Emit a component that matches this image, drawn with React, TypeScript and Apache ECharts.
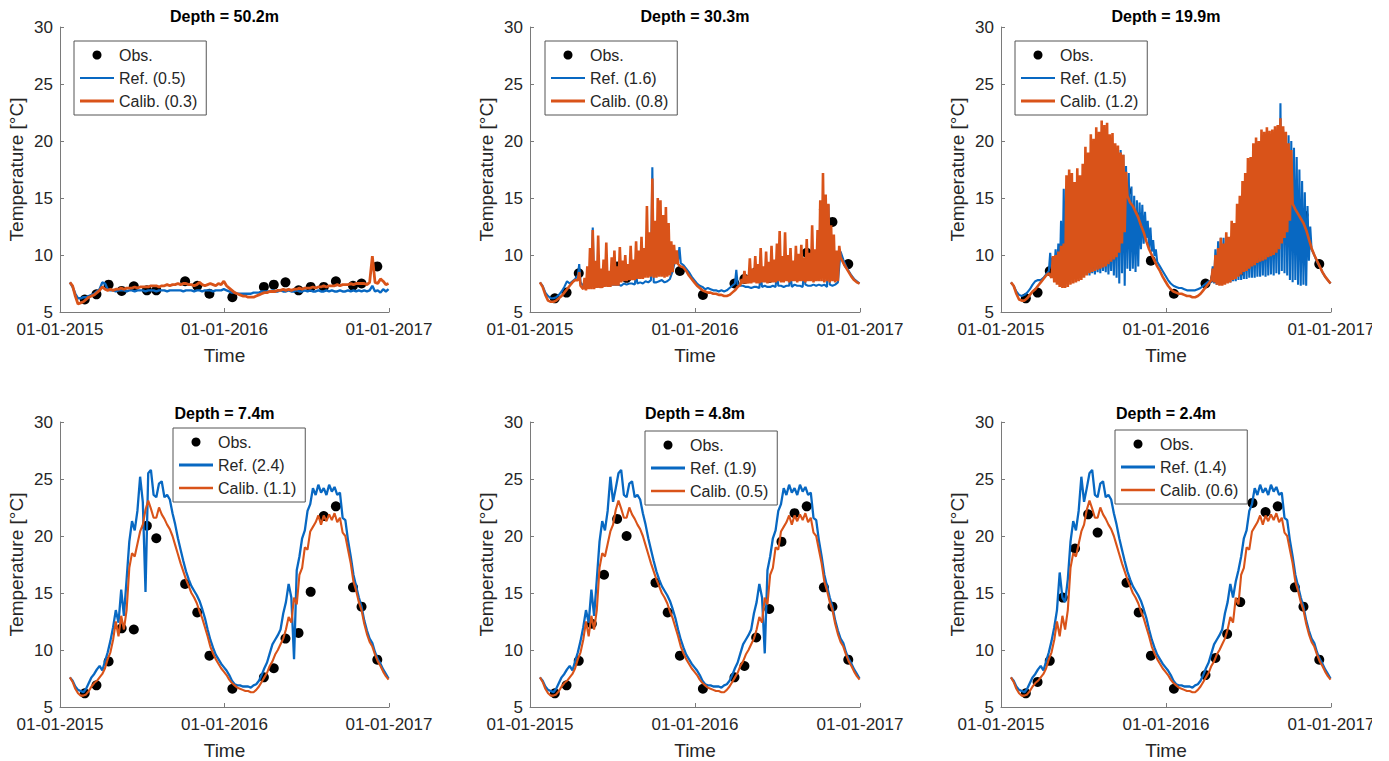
import React, { useEffect, useRef } from 'react';
import * as echarts from 'echarts';

// ---------- DATA ----------
// Simulated series are sampled every STEP days starting at DAY0 (days since 01-01-2015)
const DAY0 = 22;
const STEP = 6;
const X_TICK_LABELS = ['01-01-2015', '01-01-2016', '01-01-2017'];
const OBS_DAYS = [55, 81, 108, 137, 164, 193, 214, 278, 305, 332, 383, 453, 475, 501, 530, 557, 586, 613, 651, 670, 705];

// Depth = 50.2m
const REF_50 = [7.6,7.2,6.6,6.2,6.2,6.3,6.3,6.4,6.5,6.6,
 6.8,7.0,7.6,7.5,7.0,6.9,6.9,6.8,6.9,6.9,
 6.9,6.8,6.9,6.9,6.8,6.9,6.9,6.9,6.8,6.9,
 6.9,6.9,6.8,6.9,6.9,6.9,6.8,6.9,6.9,6.9,
 6.9,6.9,6.8,6.9,6.9,6.9,6.8,6.9,6.9,6.8,
 6.9,6.9,6.9,6.8,6.9,6.9,6.9,7.0,6.9,6.8,
 6.7,6.7,6.6,6.6,6.6,6.6,6.6,6.6,6.7,6.7,
 6.7,6.8,6.8,6.8,6.8,6.9,6.8,6.8,6.9,6.8,
 6.8,6.9,6.8,6.8,6.9,6.8,6.8,6.9,6.8,6.9,
 6.8,6.8,6.9,6.8,6.8,6.9,6.8,6.9,6.8,6.8,
 6.9,6.8,6.8,6.9,6.8,6.9,6.8,6.9,6.8,6.9,
 6.8,6.9,7.3,6.8,6.9,6.7,7.0,6.8,7.0];
const CALIB_50 = [7.6,7.3,6.4,5.7,5.8,5.9,6.1,6.3,6.4,6.5,
 6.7,6.9,7.2,7.0,6.9,7.0,6.9,7.0,7.0,7.1,
 7.0,7.1,7.1,7.1,7.2,7.1,7.2,7.2,7.2,7.2,
 7.3,7.3,7.3,7.2,7.3,7.3,7.4,7.3,7.4,7.4,
 7.5,7.4,7.5,7.5,7.4,7.4,7.3,7.4,7.6,7.4,
 7.3,7.4,7.5,7.4,7.3,7.5,7.4,7.7,7.3,7.1,
 6.9,6.7,6.6,6.5,6.4,6.4,6.3,6.3,6.3,6.4,
 6.5,6.6,6.7,6.7,6.8,6.8,6.8,6.9,6.9,7.0,
 6.9,7.0,6.9,7.0,7.0,7.1,7.0,7.1,7.1,7.1,
 7.2,7.1,7.2,7.2,7.3,7.2,7.3,7.3,7.3,7.4,
 7.3,7.4,7.4,7.4,7.5,7.4,7.5,7.5,7.5,7.5,
 7.4,7.6,9.9,7.6,7.5,7.9,7.7,7.4,7.5];
const OBS_50 = [6.1,6.55,7.4,6.85,7.25,6.9,6.9,7.7,7.3,6.6,6.3,7.2,7.4,7.6,6.9,7.2,7.2,7.7,7.3,7.5,9.0];

// Depth = 30.3m (base = lower trace, peak = spike tops, 0 = no spike)
const REF_30 = [7.6,7.3,6.7,6.4,6.2,6.2,6.3,6.5,6.8,7.2,
 7.7,7.5,7.7,7.9,8.2,7.6,7.3,7.2,7.3,7.3,
 7.2,7.2,7.3,7.3,7.3,7.4,7.4,7.4,7.4,7.4,
 7.3,7.5,7.4,7.5,7.5,7.4,7.5,7.6,7.5,7.7,
 7.6,7.8,7.6,7.6,7.7,7.8,7.6,7.7,7.9,8.6,
 9.6,9.5,9.3,9.1,8.8,8.5,8.1,7.8,7.5,7.3,
 7.2,7.0,7.1,7.0,6.9,6.9,6.8,6.9,6.8,6.9,
 7.1,7.3,7.5,7.4,7.3,7.3,7.2,7.2,7.1,7.2,
 7.2,7.1,7.2,7.3,7.2,7.2,7.3,7.2,7.3,7.3,
 7.2,7.3,7.3,7.2,7.4,7.3,7.3,7.2,7.4,7.3,
 7.3,7.4,7.3,7.4,7.3,7.4,7.2,7.4,7.3,7.4,
 7.6,10.3,9.6,9.0,8.6,8.2,7.9,7.7,7.5];
const REF_30_PEAK = [0,0,0,0,0,0,0,0,0,0,
 0,0,0,0,9.2,0,0,0,0,12.4,
 9.0,0,0,0,8.2,0,0,0,0,0,
 0,0,0,0,0,8.3,0,0,0,0,
 0,17.7,0,0,0,0,0,0,0,0,
 0,10.7,0,0,0,0,0,0,0,0,
 0,0,0,0,0,0,0,0,0,0,
 0,0,8.7,0,0,0,0,0,0,0,
 0,8.3,0,0,0,0,0,8.5,0,0,
 0,0,8.4,0,0,0,0,8.6,0,0,
 0,0,0,0,0,0,14.4,0,0,0,
 0,0,0,0,0,0,0,0,0];
const CALIB_30 = [7.6,7.2,6.5,6.0,5.9,5.9,6.0,6.2,6.4,6.7,
 7.0,7.3,7.6,7.8,7.8,7.3,7.0,6.9,7.0,7.0,
 7.0,7.1,7.1,7.1,7.2,7.2,7.2,7.3,7.3,7.3,
 7.6,7.7,7.7,7.8,7.8,7.8,7.9,7.9,7.9,8.0,
 8.0,8.1,8.0,8.0,8.1,8.1,8.0,8.1,8.2,8.5,
 9.2,9.2,9.0,8.9,8.6,8.2,7.9,7.6,7.3,7.1,
 6.9,6.8,6.7,6.7,6.6,6.6,6.5,6.5,6.4,6.4,
 6.5,6.7,6.9,7.2,7.4,7.5,7.5,7.5,7.5,7.6,
 7.5,7.5,7.6,7.6,7.5,7.6,7.6,7.6,7.7,7.6,
 7.6,7.7,7.6,7.7,7.7,7.6,7.7,7.7,7.6,7.7,
 7.7,7.6,7.7,7.7,7.7,7.6,7.7,7.6,7.7,7.6,
 7.7,9.8,9.3,8.9,8.5,8.1,7.8,7.6,7.5];
const CALIB_30_PEAK = [0,0,0,0,0,0,0,0,0,0,
 0,0,0,0,8.5,0,8.0,9.0,10.6,12.2,
 9.5,11.7,8.8,9.6,11.1,8.6,9.8,10.4,9.0,10.7,
 9.5,10.0,9.2,10.8,9.6,11.2,10.4,11.6,10.6,14.3,
 12.0,16.7,13.0,15.0,14.8,13.5,14.2,12.8,11.2,10.9,
 10.4,0,0,0,0,0,0,0,0,0,
 0,0,0,0,0,0,0,0,0,0,
 0,0,0,0,7.9,8.6,8.2,9.7,8.8,9.9,
 9.2,10.6,9.0,10.3,9.4,10.8,9.6,11.0,12.1,9.9,
 12.0,10.0,10.6,9.5,10.8,10.1,10.9,9.8,11.4,10.2,
 12.6,10.5,12.2,14.8,17.2,15.3,14.5,12.6,11.8,10.4,
 10.8,0,0,0,0,0,0,0,0];
const OBS_30 = [6.2,6.7,8.4,8.0,7.8,9.0,8.0,9.8,9.7,8.6,6.5,7.5,7.9,8.5,8.0,9.4,8.3,10.2,14.0,12.9,9.2];

// Depth = 19.9m
const REF_20 = [7.6,7.3,6.8,6.5,6.4,6.5,6.7,7.0,7.4,7.7,
 7.8,7.8,8.0,8.3,8.6,8.8,8.6,8.2,7.9,7.8,
 7.8,7.8,7.9,7.9,8.0,8.1,8.0,8.2,8.3,8.2,
 8.4,8.3,8.5,8.4,8.6,8.5,8.3,8.6,8.2,8.0,
 7.5,8.4,7.3,8.8,8.6,8.8,8.5,9.0,10.5,11.0,
 11.5,10.6,10.3,9.9,9.4,9.0,8.6,8.2,7.8,7.5,
 7.3,7.2,7.1,7.1,7.0,6.9,6.9,6.9,6.9,7.0,
 7.1,7.3,7.5,7.7,7.6,7.5,7.4,7.4,7.5,7.5,
 7.6,7.6,7.7,7.7,7.8,7.8,7.9,7.9,8.0,8.0,
 8.0,8.1,8.1,8.2,8.1,8.2,8.3,8.2,8.4,8.3,
 8.6,8.4,8.2,7.8,7.6,7.8,7.4,7.3,7.4,7.3,
 9.5,10.5,10.0,9.4,9.0,8.5,8.1,7.8,7.5];
const REF_20_PEAK = [0,0,0,0,0,0,0,0,0,0,
 0,0,0,0,10.2,9.8,10.5,11.0,13.0,15.8,
 15.6,14.0,11.0,10.5,10.4,10.8,11.0,11.2,10.8,11.4,
 11.0,11.6,11.2,12.0,11.5,12.4,12.0,13.5,15.0,18.0,
 19.2,18.8,17.8,17.2,16.0,15.2,14.8,14.6,14.4,13.8,
 13.0,12.4,11.3,10.5,0,0,0,0,0,0,
 0,0,0,0,0,0,0,0,0,0,
 0,0,0,0,9.0,10.5,11.2,11.5,11.5,11.0,
 10.2,10.5,10.8,11.0,11.4,11.6,12.0,12.3,12.8,13.0,
 13.4,13.6,14.0,14.2,14.6,15.0,15.6,16.0,17.0,23.3,
 21.0,20.6,20.5,20.0,19.4,18.6,17.5,16.5,15.5,14.3,
 12.5,0,0,0,0,0,0,0,0];
const CALIB_20 = [7.6,7.3,6.6,6.1,6.0,6.0,6.2,6.5,6.8,7.0,
 7.3,7.6,7.9,8.2,8.4,8.0,7.6,7.4,7.2,7.1,
 7.1,7.2,7.4,7.5,7.6,7.7,7.8,8.0,8.2,8.4,
 8.5,8.6,8.7,8.8,8.9,9.0,9.2,9.4,9.6,9.8,
 10.2,11.0,12.0,15.2,14.6,14.3,13.8,13.3,12.6,12.0,
 11.2,10.5,10.0,9.5,9.0,8.6,8.1,7.7,7.3,7.0,
 6.8,6.7,6.6,6.6,6.5,6.4,6.4,6.3,6.3,6.4,
 6.6,6.9,7.2,7.5,7.8,7.6,7.4,7.3,7.3,7.4,
 7.5,7.6,7.8,7.9,8.1,8.3,8.5,8.6,8.8,9.0,
 9.1,9.3,9.4,9.5,9.6,9.8,9.9,10.0,10.2,10.5,
 11.0,11.5,12.0,13.0,14.5,14.0,13.6,13.2,12.8,12.2,
 11.4,10.6,10.0,9.5,9.0,8.5,8.1,7.8,7.5];
const CALIB_20_PEAK = [0,0,0,0,0,0,0,0,0,0,
 0,0,0,0,0,9.9,10.0,10.3,10.8,11.0,
 17.0,17.5,17.2,16.4,17.6,17.0,18.0,19.5,19.0,20.6,
 20.2,21.2,20.8,21.8,21.4,21.6,20.6,20.7,19.8,19.6,
 19.0,18.8,17.3,0,0,0,0,0,0,0,
 0,0,0,0,0,0,0,0,0,0,
 0,0,0,0,0,0,0,0,0,0,
 0,0,0,0,8.8,10.0,10.6,11.5,11.0,12.0,
 11.6,13.0,12.8,14.5,15.2,16.5,17.2,18.5,18.6,19.8,
 20.3,20.0,21.0,20.8,21.2,20.9,21.0,21.3,21.4,22.0,
 21.3,20.8,19.8,19.2,0,0,0,0,0,0,
 0,0,0,0,0,0,0,0,0];
const OBS_20 = [6.2,6.7,8.6,9.6,10.1,13.2,11.6,15.6,13.3,9.5,6.6,7.5,8.0,10.2,8.6,11.3,10.1,12.8,14.3,13.5,9.2];

// Depth = 7.4m
const REF_7 = [7.6,7.3,6.8,6.5,6.4,6.3,6.6,7.1,7.6,7.9,
 8.3,8.6,8.2,9.0,9.8,10.8,12.0,13.5,12.4,15.3,
 13.0,16.2,19.5,21.3,20.5,22.2,25.2,23.0,15.1,25.5,
 25.8,23.6,23.4,24.6,24.8,23.4,23.6,23.2,22.0,21.0,
 19.8,18.8,17.8,16.9,16.2,15.6,15.2,14.8,14.3,13.6,
 12.8,11.8,10.9,10.2,9.6,9.2,8.8,8.5,8.2,7.8,
 7.3,7.0,6.9,6.9,6.8,6.8,6.8,6.7,6.9,7.0,
 7.3,7.8,8.4,8.9,9.7,10.5,10.9,11.3,11.8,13.2,
 14.2,15.8,14.6,9.2,17.0,18.2,19.8,20.5,22.2,22.8,
 24.2,23.6,24.5,23.8,24.2,23.6,24.5,23.9,24.3,23.6,
 23.8,21.6,21.4,19.6,18.2,16.6,15.6,14.6,13.8,12.6,
 11.7,11.0,10.6,9.8,9.2,8.8,8.3,7.9,7.5];
const CALIB_7 = [7.6,7.2,6.6,6.2,6.0,6.0,6.1,6.4,6.8,7.1,
 7.3,7.6,7.9,8.4,9.2,9.8,10.9,12.5,11.2,13.0,
 11.8,13.5,17.2,18.5,18.2,19.3,20.4,21.0,22.3,23.1,
 22.4,21.6,21.6,22.5,21.9,21.5,21.0,20.6,20.0,19.2,
 18.4,17.6,16.9,16.2,15.6,15.0,14.6,14.1,13.4,12.8,
 12.0,11.2,10.3,9.7,9.2,8.8,8.4,8.1,7.8,7.4,
 7.1,6.9,6.7,6.6,6.5,6.4,6.4,6.3,6.3,6.5,
 6.8,7.2,7.6,8.0,8.6,9.0,9.6,10.0,10.5,11.0,
 11.8,12.9,12.4,14.6,14.0,16.6,17.2,19.0,18.8,20.4,
 20.8,21.2,21.8,21.0,21.8,21.3,21.9,21.4,22.0,21.2,
 21.6,20.3,20.0,18.8,17.6,16.0,15.2,14.2,13.5,12.3,
 11.4,10.7,10.3,9.6,9.0,8.6,8.1,7.7,7.4];
const OBS_7 = [6.2,6.9,9.0,11.9,11.8,20.9,19.8,15.8,13.3,9.5,6.6,7.6,8.4,11.0,11.5,15.1,21.75,22.6,15.5,13.8,9.15];

// Depth = 4.8m
const REF_5 = [7.6,7.3,6.8,6.5,6.4,6.3,6.6,7.1,7.6,7.9,
 8.3,8.6,8.2,9.0,9.8,10.8,12.0,13.5,12.4,15.3,
 13.0,16.2,19.5,21.3,20.5,22.2,25.2,23.0,24.2,25.5,
 25.8,23.6,23.4,24.6,24.8,23.4,23.6,23.2,22.0,21.0,
 19.8,18.8,17.8,16.9,16.2,15.6,15.2,14.8,14.3,13.6,
 12.8,11.8,10.9,10.2,9.6,9.2,8.8,8.5,8.2,7.8,
 7.3,7.0,6.9,6.9,6.8,6.8,6.8,6.7,6.9,7.0,
 7.3,7.8,8.4,8.9,9.7,10.5,10.9,11.3,11.8,13.2,
 14.2,15.8,14.6,9.7,17.0,18.2,19.8,20.5,22.2,22.8,
 24.2,23.6,24.5,23.8,24.2,23.6,24.5,23.9,24.3,23.6,
 23.8,21.6,21.4,19.6,18.2,16.6,15.6,14.6,13.8,12.6,
 11.7,11.0,10.6,9.8,9.2,8.8,8.3,7.9,7.5];
const CALIB_5 = [7.6,7.2,6.6,6.2,6.0,6.0,6.1,6.4,6.8,7.1,
 7.3,7.6,7.9,8.4,9.2,9.8,10.9,12.5,11.2,13.0,
 11.8,13.5,17.2,18.5,18.2,19.3,20.4,21.0,22.3,23.1,
 22.4,21.6,21.6,22.5,21.9,21.5,21.0,20.6,20.0,19.2,
 18.4,17.6,16.9,16.2,15.6,15.0,14.6,14.1,13.4,12.8,
 12.0,11.2,10.3,9.7,9.2,8.8,8.4,8.1,7.8,7.4,
 7.1,6.9,6.7,6.6,6.5,6.4,6.4,6.3,6.3,6.5,
 6.8,7.2,7.6,8.0,8.6,9.0,9.6,10.0,10.5,11.0,
 11.8,12.9,12.4,14.6,14.0,16.6,17.2,19.0,18.8,20.4,
 20.8,21.2,21.8,21.0,21.8,21.3,21.9,21.4,22.0,21.2,
 21.6,20.3,20.0,18.8,17.6,16.0,15.2,14.2,13.5,12.3,
 11.4,10.7,10.3,9.6,9.0,8.6,8.1,7.7,7.4];
const OBS_5 = [6.2,6.9,9.05,12.3,16.6,21.5,20.0,15.9,13.3,9.5,6.6,7.6,8.6,11.1,13.6,19.5,22.0,22.6,15.5,13.8,9.15];

// Depth = 2.4m
const REF_2 = [7.6,7.3,6.8,6.5,6.4,6.3,6.6,7.1,7.6,7.9,
 8.3,8.6,8.2,9.0,9.8,10.8,12.0,13.5,16.8,14.6,
 14.2,16.2,19.5,21.3,20.5,22.2,25.2,23.0,24.2,25.5,
 25.8,23.6,23.4,24.6,24.8,23.4,23.6,23.2,22.0,21.0,
 19.8,18.8,17.8,16.9,16.2,15.6,15.2,14.8,14.3,13.6,
 12.8,11.8,10.9,10.2,9.6,9.2,8.8,8.5,8.2,7.8,
 7.3,7.0,6.9,6.9,6.8,6.8,6.8,6.7,6.9,7.0,
 7.3,7.8,8.4,8.9,9.7,10.5,10.9,11.3,11.8,13.2,
 14.2,15.8,14.6,16.0,17.0,18.2,19.8,20.5,22.2,22.8,
 24.2,23.6,24.5,23.8,24.2,23.6,24.5,23.9,24.3,23.6,
 23.8,21.6,21.4,19.6,18.2,16.6,15.6,14.6,13.8,12.6,
 11.7,11.0,10.6,9.8,9.2,8.8,8.3,7.9,7.5];
const CALIB_2 = [7.6,7.2,6.6,6.2,6.0,6.0,6.1,6.4,6.8,7.1,
 7.3,7.6,7.9,8.4,9.2,9.8,10.9,12.5,11.2,13.0,
 11.8,13.5,17.2,18.5,18.2,19.3,20.4,21.0,22.3,23.1,
 22.4,21.6,21.6,22.5,21.9,21.5,21.0,20.6,20.0,19.2,
 18.4,17.6,16.9,16.2,15.6,15.0,14.6,14.1,13.4,12.8,
 12.0,11.2,10.3,9.7,9.2,8.8,8.4,8.1,7.8,7.4,
 7.1,6.9,6.7,6.6,6.5,6.4,6.4,6.3,6.3,6.5,
 6.8,7.2,7.6,8.0,8.6,9.0,9.6,10.0,10.5,11.0,
 11.8,12.9,12.4,14.6,14.0,16.6,17.2,19.0,18.8,20.4,
 20.8,21.2,21.8,21.0,21.8,21.3,21.9,21.4,22.0,21.2,
 21.6,20.3,20.0,18.8,17.6,16.0,15.2,14.2,13.5,12.3,
 11.4,10.7,10.3,9.6,9.0,8.6,8.1,7.7,7.4];
const OBS_2 = [6.2,7.2,9.05,14.6,18.9,21.9,20.3,15.9,13.3,9.5,6.6,7.8,9.3,11.4,14.2,22.9,22.1,22.6,15.5,13.8,9.15];

const TITLES = ['Depth = 50.2m', 'Depth = 30.3m', 'Depth = 19.9m', 'Depth = 7.4m', 'Depth = 4.8m', 'Depth = 2.4m'];
const REF_NAMES = ['Ref. (0.5)', 'Ref. (1.6)', 'Ref. (1.5)', 'Ref. (2.4)', 'Ref. (1.9)', 'Ref. (1.4)'];
const CALIB_NAMES = ['Calib. (0.3)', 'Calib. (0.8)', 'Calib. (1.2)', 'Calib. (1.1)', 'Calib. (0.5)', 'Calib. (0.6)'];

const PANELS = [
  { ref: REF_50, refPeak: null, calib: CALIB_50, calibPeak: null, obs: OBS_50 },
  { ref: REF_30, refPeak: REF_30_PEAK, calib: CALIB_30, calibPeak: CALIB_30_PEAK, obs: OBS_30 },
  { ref: REF_20, refPeak: REF_20_PEAK, calib: CALIB_20, calibPeak: CALIB_20_PEAK, obs: OBS_20 },
  { ref: REF_7, refPeak: null, calib: CALIB_7, calibPeak: null, obs: OBS_7 },
  { ref: REF_5, refPeak: null, calib: CALIB_5, calibPeak: null, obs: OBS_5 },
  { ref: REF_2, refPeak: null, calib: CALIB_2, calibPeak: null, obs: OBS_2 },
];

// ---------- LAYOUT / STYLE ----------
const FONT = '"Liberation Sans", Arial, Helvetica, sans-serif';
const TEXT = '#262626';
const AXIS = '#7a7a7a';
const BLUE = '#0868C2';
const ORANGE = '#D95319';
const GRID_LEFT = [60, 530, 1001];
const GRID_WIDTH = [329, 330, 330];
const GRID_TOP = [27, 422];
const GRID_HEIGHT = 285;
const TITLE_Y = [16, 413];
const LEGEND_POS = [[74, 41], [545, 41], [1015, 41], [173, 428], [645, 431], [1115, 430]];

function lineIcon(h: number) {
  return `path://M0,0H34V${h}H0Z`;
}
function lineData(vals: number[]) {
  return vals.map((v, i) => [DAY0 + STEP * i, v]);
}
function zigzagData(base: number[], peak: number[] | null) {
  const out: number[][] = [];
  base.forEach((v, i) => {
    const d = DAY0 + STEP * i;
    out.push([d, v]);
    if (peak && peak[i] > 0) out.push([d + STEP / 2, peak[i]]);
  });
  return out;
}

function buildOption() {
  const grid: any[] = [];
  const xAxis: any[] = [];
  const yAxis: any[] = [];
  const series: any[] = [];
  const legend: any[] = [];
  const graphic: any[] = [];

  PANELS.forEach((p, k) => {
    const col = k % 3;
    const row = Math.floor(k / 3);
    const spiky = !!p.refPeak;
    grid.push({ left: GRID_LEFT[col], top: GRID_TOP[row], width: GRID_WIDTH[col], height: GRID_HEIGHT, containLabel: false });
    xAxis.push({
      type: 'value', gridIndex: k, min: 0, max: 731, interval: 365.5,
      axisLine: { show: true, onZero: false, lineStyle: { color: AXIS, width: 1 } },
      axisTick: { show: true, inside: true, length: 4, lineStyle: { color: AXIS } },
      axisLabel: {
        fontSize: 17, color: TEXT, fontFamily: FONT, margin: 9,
        formatter: (v: number) => X_TICK_LABELS[Math.round(v / 365.5)] ?? '',
      },
      splitLine: { show: false },
      name: 'Time', nameLocation: 'middle', nameGap: 34,
      nameTextStyle: { fontSize: 19, color: TEXT, fontFamily: FONT },
    });
    yAxis.push({
      type: 'value', gridIndex: k, min: 5, max: 30, interval: 5,
      axisLine: { show: true, onZero: false, lineStyle: { color: AXIS, width: 1 } },
      axisTick: { show: true, inside: true, length: 4, lineStyle: { color: AXIS } },
      axisLabel: { fontSize: 17, color: TEXT, fontFamily: FONT, margin: 7 },
      splitLine: { show: false },
      name: 'Temperature [°C]', nameLocation: 'middle', nameGap: 34,
      nameTextStyle: { fontSize: 19, color: TEXT, fontFamily: FONT },
    });
    const refW = row === 0 ? (spiky ? 2.1 : 2.4) : 2.3;
    const calW = row === 0 ? (spiky ? 2.6 : 2.8) : 2.1;
    series.push({
      type: 'line', name: REF_NAMES[k], xAxisIndex: k, yAxisIndex: k,
      data: spiky ? zigzagData(p.ref, p.refPeak) : lineData(p.ref),
      symbol: 'none', showSymbol: false, silent: true, animation: false,
      lineStyle: { color: BLUE, width: refW, join: 'bevel' }, itemStyle: { color: BLUE },
    });
    series.push({
      type: 'line', name: CALIB_NAMES[k], xAxisIndex: k, yAxisIndex: k,
      data: spiky ? zigzagData(p.calib, p.calibPeak) : lineData(p.calib),
      symbol: 'none', showSymbol: false, silent: true, animation: false,
      lineStyle: { color: ORANGE, width: calW, join: 'bevel' }, itemStyle: { color: ORANGE },
    });
    series.push({
      type: 'scatter', name: 'Obs.', xAxisIndex: k, yAxisIndex: k,
      data: OBS_DAYS.map((d, i) => [d, p.obs[i]]),
      symbol: 'circle', symbolSize: 10, silent: true, animation: false,
      itemStyle: { color: '#000', opacity: 1 },
    });
    legend.push({
      orient: 'vertical', left: LEGEND_POS[k][0], top: LEGEND_POS[k][1],
      padding: [6, 9, 6, 6], itemGap: 7, itemWidth: 34, itemHeight: 9,
      backgroundColor: '#fff', borderColor: '#555', borderWidth: 1,
      selectedMode: false,
      textStyle: { fontSize: 16, color: TEXT, fontFamily: FONT },
      data: [
        { name: 'Obs.', icon: 'circle', itemStyle: { color: '#000', opacity: 1 } },
        { name: REF_NAMES[k], icon: lineIcon(row === 0 ? 2 : 3), itemStyle: { color: BLUE } },
        { name: CALIB_NAMES[k], icon: lineIcon(row === 0 ? 3.2 : 2.6), itemStyle: { color: ORANGE } },
      ],
    });
    graphic.push({
      type: 'text', x: GRID_LEFT[col] + GRID_WIDTH[col] / 2, y: TITLE_Y[row],
      style: {
        text: TITLES[k], fill: '#000', font: `bold 16px ${FONT}`,
        textAlign: 'center', textVerticalAlign: 'middle', align: 'center', verticalAlign: 'middle',
      },
    });
  });
  // crop of the right edge as in the reference figure
  graphic.push({ type: 'rect', shape: { x: 1372, y: 0, width: 17, height: 761 }, style: { fill: '#fff' }, z: 100 });

  return { animation: false, backgroundColor: '#fff', grid, xAxis, yAxis, series, legend, graphic };
}

export default function App() {
  const ref = useRef<HTMLDivElement>(null);
  useEffect(() => {
    const chart = echarts.init(ref.current!, null, { renderer: 'svg' });
    chart.setOption(buildOption() as any);
    return () => chart.dispose();
  }, []);
  return (
    <div
      ref={ref}
      style={{ position: 'absolute', left: 0, top: 0, width: 1389, height: 761, background: '#fff' }}
    />
  );
}
